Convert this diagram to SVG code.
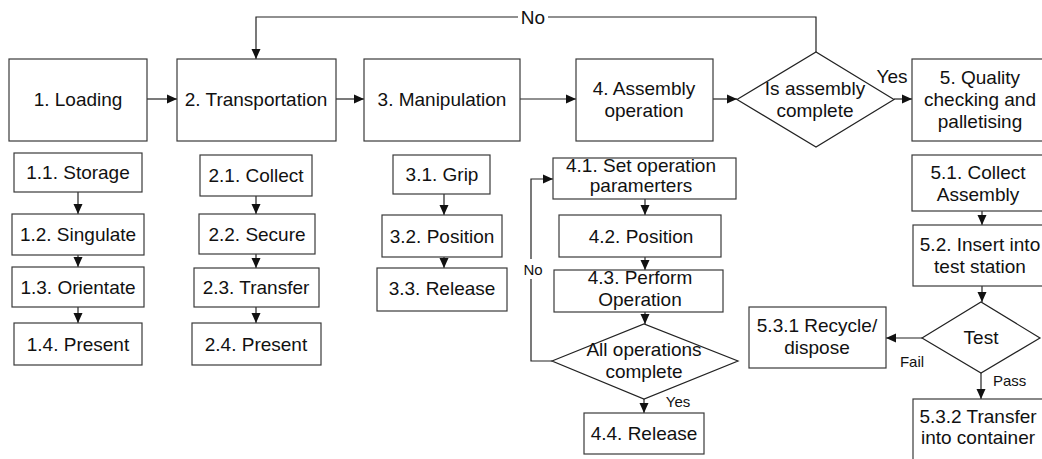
<svg xmlns="http://www.w3.org/2000/svg" width="1042" height="459" viewBox="0 0 1042 459">
  <style>
    .box { fill: #ffffff; stroke: #3a3a3a; stroke-width: 1.2; }
    .dec { fill: #ffffff; stroke: #222222; stroke-width: 1.2; }
    .t { font-family: "Liberation Sans", Arial, sans-serif; font-size: 19px; fill: #111111; text-anchor: middle; }
    .lbl { font-family: "Liberation Sans", Arial, sans-serif; font-size: 15px; fill: #111111; }
    .big { font-size: 19px; }
    .edge { fill: none; stroke: #222222; stroke-width: 1.2; }
    .mask { fill: #ffffff; }
  </style>
  <defs>
    <marker id="arrow" markerWidth="10" markerHeight="10" refX="10" refY="5" orient="auto" markerUnits="userSpaceOnUse">
      <path d="M0,0.5 L10,5 L0,9.5 Z" fill="#111111"/>
    </marker>
  </defs>
  <rect width="1042" height="459" fill="#ffffff"/>

  <!-- connectors -->
  <g id="connectors">
    <!-- main row -->
    <path class="edge" d="M147,99 H177" marker-end="url(#arrow)"/>
    <path class="edge" d="M336,99 H364" marker-end="url(#arrow)"/>
    <path class="edge" d="M520,99 H576" marker-end="url(#arrow)"/>
    <path class="edge" d="M713,99 H737" marker-end="url(#arrow)"/>
    <path class="edge" d="M894,99 H912" marker-end="url(#arrow)"/>
    <!-- return loop from the assembly check -->
    <path class="edge" d="M816,52 V17 H256 V59" marker-end="url(#arrow)"/>
    <rect class="mask" x="518" y="8" width="30" height="18"/>
    <text class="lbl big" x="533" y="24" text-anchor="middle">No</text>
    <text class="lbl big" x="892" y="83" text-anchor="middle">Yes</text>

    <!-- column 1 -->
    <path class="edge" d="M78,192 V214" marker-end="url(#arrow)"/>
    <path class="edge" d="M78,255 V267" marker-end="url(#arrow)"/>
    <path class="edge" d="M78,307 V323" marker-end="url(#arrow)"/>
    <!-- column 2 -->
    <path class="edge" d="M256,196 V214" marker-end="url(#arrow)"/>
    <path class="edge" d="M256,254 V268" marker-end="url(#arrow)"/>
    <path class="edge" d="M256,307 V323" marker-end="url(#arrow)"/>
    <!-- column 3 -->
    <path class="edge" d="M444,194 V215" marker-end="url(#arrow)"/>
    <path class="edge" d="M444,257 V268" marker-end="url(#arrow)"/>
    <!-- column 4 -->
    <path class="edge" d="M645,199 V215" marker-end="url(#arrow)"/>
    <path class="edge" d="M645,257 V270" marker-end="url(#arrow)"/>
    <path class="edge" d="M645,312 V324" marker-end="url(#arrow)"/>
    <path class="edge" d="M644,399 V413" marker-end="url(#arrow)"/>
    <path class="edge" d="M552,361 H531 V179 H553" marker-end="url(#arrow)"/>
    <rect class="mask" x="524" y="259" width="16" height="20"/>
    <text class="lbl" x="533" y="275" text-anchor="middle">No</text>
    <text class="lbl" x="678" y="407" text-anchor="middle">Yes</text>
    <!-- column 5 -->
    <path class="edge" d="M982,211 V225" marker-end="url(#arrow)"/>
    <path class="edge" d="M982,286 V302" marker-end="url(#arrow)"/>
    <path class="edge" d="M922,338 H886" marker-end="url(#arrow)"/>
    <path class="edge" d="M981,373 V399" marker-end="url(#arrow)"/>
    <text class="lbl" x="912" y="367" text-anchor="middle">Fail</text>
    <text class="lbl" x="993" y="386">Pass</text>
  </g>

  <!-- main stages -->
  <g id="n1"><rect class="box" x="9" y="59" width="138" height="82"/><text class="t" x="78" y="106">1. Loading</text></g>
  <g id="n2"><rect class="box" x="177" y="59" width="159" height="82"/><text class="t" x="256" y="106">2. Transportation</text></g>
  <g id="n3"><rect class="box" x="364" y="59" width="156" height="82"/><text class="t" x="442" y="106">3. Manipulation</text></g>
  <g id="n4"><rect class="box" x="576" y="59" width="137" height="82"/><text class="t" x="644" y="95">4. Assembly</text><text class="t" x="644" y="117">operation</text></g>
  <g id="d1"><polygon class="dec" points="737,99.5 816,52 894,99.5 816,147"/><text class="t" x="815" y="95">Is assembly</text><text class="t" x="815" y="117">complete</text></g>
  <g id="n5"><rect class="box" x="912" y="59" width="136" height="82"/><text class="t" x="980" y="84">5. Quality</text><text class="t" x="980" y="106">checking and</text><text class="t" x="980" y="128">palletising</text></g>

  <!-- loading steps -->
  <g id="n1-1"><rect class="box" x="14" y="153" width="128" height="39"/><text class="t" x="78" y="179">1.1. Storage</text></g>
  <g id="n1-2"><rect class="box" x="12" y="214" width="132" height="41"/><text class="t" x="78" y="241">1.2. Singulate</text></g>
  <g id="n1-3"><rect class="box" x="12" y="267" width="132" height="40"/><text class="t" x="78" y="294">1.3. Orientate</text></g>
  <g id="n1-4"><rect class="box" x="14" y="323" width="128" height="42"/><text class="t" x="78" y="351">1.4. Present</text></g>

  <!-- transportation steps -->
  <g id="n2-1"><rect class="box" x="200" y="155" width="112" height="41"/><text class="t" x="256" y="182">2.1. Collect</text></g>
  <g id="n2-2"><rect class="box" x="199" y="214" width="116" height="40"/><text class="t" x="257" y="241">2.2. Secure</text></g>
  <g id="n2-3"><rect class="box" x="194" y="268" width="125" height="39"/><text class="t" x="256" y="294">2.3. Transfer</text></g>
  <g id="n2-4"><rect class="box" x="192" y="323" width="129" height="42"/><text class="t" x="256" y="351">2.4. Present</text></g>

  <!-- manipulation steps -->
  <g id="n3-1"><rect class="box" x="393" y="155" width="97" height="39"/><text class="t" x="442" y="181">3.1. Grip</text></g>
  <g id="n3-2"><rect class="box" x="382" y="215" width="120" height="42"/><text class="t" x="442" y="243">3.2. Position</text></g>
  <g id="n3-3"><rect class="box" x="377" y="268" width="130" height="43"/><text class="t" x="442" y="295">3.3. Release</text></g>

  <!-- assembly steps -->
  <g id="n4-1"><rect class="box" x="553" y="158" width="183" height="41"/><text class="t" x="641" y="172">4.1. Set operation</text><text class="t" x="641" y="192">paramerters</text></g>
  <g id="n4-2"><rect class="box" x="559" y="215" width="162" height="42"/><text class="t" x="641" y="243">4.2. Position</text></g>
  <g id="n4-3"><rect class="box" x="554" y="270" width="169" height="42"/><text class="t" x="640" y="284">4.3. Perform</text><text class="t" x="640" y="306">Operation</text></g>
  <g id="d2"><polygon class="dec" points="552,361 644,324 738,361 644,399"/><text class="t" x="644" y="356">All operations</text><text class="t" x="644" y="378">complete</text></g>
  <g id="n4-4"><rect class="box" x="584" y="413" width="120" height="41"/><text class="t" x="644" y="440">4.4. Release</text></g>

  <!-- quality steps -->
  <g id="n5-1"><rect class="box" x="912" y="155" width="136" height="56"/><text class="t" x="978" y="179">5.1. Collect</text><text class="t" x="978" y="201">Assembly</text></g>
  <g id="n5-2"><rect class="box" x="913" y="225" width="135" height="61"/><text class="t" x="980" y="251">5.2. Insert into</text><text class="t" x="980" y="273">test station</text></g>
  <g id="d3"><polygon class="dec" points="922,338 981,302 1040,338 981,373"/><text class="t" x="981" y="344">Test</text></g>
  <g id="n5-3-1"><rect class="box" x="749" y="307" width="137" height="61"/><text class="t" x="817" y="332">5.3.1 Recycle/</text><text class="t" x="817" y="354">dispose</text></g>
  <g id="n5-3-2"><rect class="box" x="913" y="399" width="135" height="70"/><text class="t" x="978" y="423">5.3.2 Transfer</text><text class="t" x="978" y="444">into container</text></g>
</svg>
